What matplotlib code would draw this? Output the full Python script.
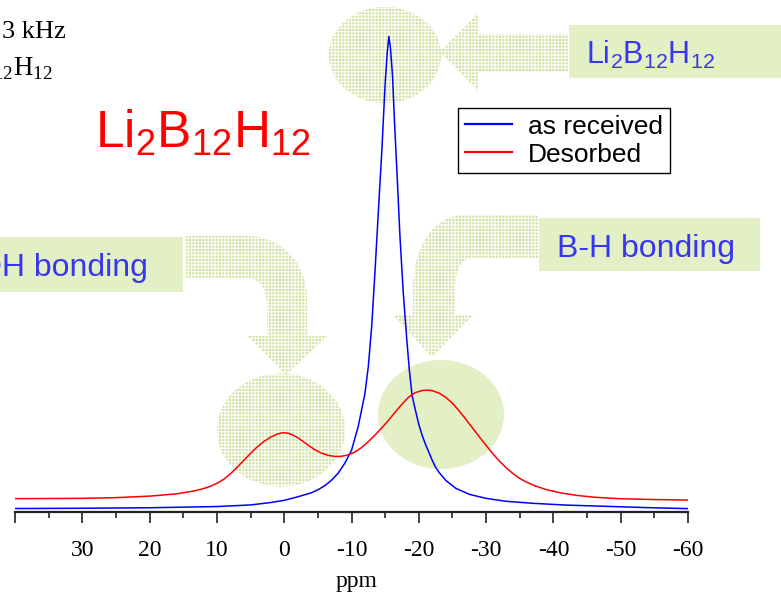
import matplotlib
matplotlib.use("Agg")
import matplotlib.pyplot as plt
from matplotlib.path import Path
from matplotlib.patches import PathPatch, Ellipse, Rectangle, Polygon
from matplotlib.transforms import Affine2D

# 11B MAS NMR spectra of Li2B12H12 (chemical shift in ppm, intensity in a.u.)
ppm_received = [40, 30, 20, 10, 5, 2, 0, -2, -4, -5, -6, -7, -8, -9, -10, -11, -12,
                -12.5, -13, -13.5, -14, -14.5, -15, -15.3, -15.55, -15.8, -16.1,
                -16.4, -16.8, -17.2, -17.7, -18.2, -18.6, -19, -19.5, -20, -20.5,
                -21, -21.5, -22, -22.5, -23, -24, -25.5, -27.5, -30, -33, -37,
                -42, -48, -54, -60]
int_received = [0.38, 0.44, 0.55, 0.80, 1.14, 1.65, 2.11, 2.85, 3.69, 4.33, 5.17,
                6.33, 7.81, 9.92, 12.66, 17.72, 24.68, 30.38, 38.82, 50.63, 63.29,
                75.74, 90.08, 96.41, 100.0, 97.47, 91.56, 81.65, 70.04, 57.81,
                45.78, 36.29, 29.54, 24.26, 21.10, 18.14, 15.82, 13.92, 12.24,
                10.55, 9.07, 8.02, 6.33, 4.64, 3.38, 2.53, 1.90, 1.48, 1.10, 0.84,
                0.57, 0.36]

ppm_desorbed = [40, 30, 25, 20, 16, 14, 13, 12, 11, 10, 9, 8, 7, 6, 5, 4, 3, 2, 1,
                0.2, -0.5, -1.2, -2, -2.8, -3.7, -4.6, -5.5, -6.5, -7.5, -8.5,
                -9.5, -10.5, -11.5, -12.5, -13.5, -14.5, -15.5, -16.5, -17.5,
                -18.5, -19.5, -20.5, -21.3, -22, -23, -24, -25, -26, -27, -28,
                -29, -30, -31, -32, -33, -34, -35, -36, -37.3, -39, -41.2, -43.5,
                -46.2, -50, -55, -60]
int_desorbed = [2.47, 2.53, 2.68, 3.00, 3.48, 3.95, 4.22, 4.60, 5.06, 5.70, 6.54,
                7.70, 9.07, 10.55, 12.03, 13.40, 14.55, 15.45, 16.10, 16.39, 16.30,
                15.95, 15.35, 14.55, 13.60, 12.75, 12.10, 11.62, 11.38, 11.40,
                11.70, 12.30, 13.25, 14.50, 15.90, 17.40, 19.00, 20.75, 22.40,
                23.90, 24.85, 25.30, 25.36, 25.25, 24.75, 23.85, 22.60, 21.00,
                19.20, 17.35, 15.50, 13.70, 11.95, 10.35, 8.95, 7.75, 6.75, 5.95,
                5.15, 4.35, 3.65, 3.15, 2.75, 2.45, 2.28, 2.17]

series_labels = ["as received", "Desorbed"]
major_ticks = [40, 30, 20, 10, 0, -10, -20, -30, -40, -50, -60]
major_labels = ["", "30", "20", "10", "0", "-10", "-20", "-30", "-40", "-50", "-60"]
minor_ticks = [35, 25, 15, 5, -5, -15, -25, -35, -45, -55]

W, H = 781, 598
fig = plt.figure(figsize=(W / 100, H / 100), dpi=100)
fig.patch.set_facecolor("white")

# pixel coordinates measured from the top-left corner of the figure
px = Affine2D().scale(1 / W, -1 / H).translate(0, 1) + fig.transFigure

ax = fig.add_axes([15 / W, (H - 512) / H, (688 - 15) / W, 512 / H])
ax.patch.set_visible(False)

SANS = "Liberation Sans"
SERIF = "Liberation Serif"
GREEN = "#e3efc4"
CHECK = "#cfe19c"
BLUE_TXT = "#3636f2"

plt.rcParams["hatch.linewidth"] = 0.8


def checker(patch):
    patch.set_facecolor(CHECK)
    patch.set_edgecolor("white")
    patch.set_hatch("+++++")
    patch.set_linewidth(0)
    return patch


def add(patch, z=-2):
    patch.set_transform(px)
    patch.set_zorder(z)
    patch.set_clip_on(False)
    fig.add_artist(patch)


# highlight ellipses
add(checker(Ellipse((385, 55), 112, 96)))
add(checker(Ellipse((281, 430), 128, 113)))
add(Ellipse((441, 414.5), 126, 109, facecolor=GREEN, edgecolor="none"))

# straight arrow pointing at the main peak
add(checker(Polygon([(440, 52), (478, 13), (478, 34), (568, 34), (568, 72),
                     (478, 72), (478, 91)], closed=True)))

# bent arrow for the O-H band
C, L, M, Z = Path.CURVE4, Path.LINETO, Path.MOVETO, Path.CLOSEPOLY
v1 = [(186, 236), (247, 236), (280, 236), (307, 262), (307, 300), (307, 336),
      (327, 336), (286, 375), (248, 336), (267, 336), (267, 305), (267, 290),
      (260, 278), (248, 278), (186, 278), (186, 236)]
c1 = [M, L, C, C, C, L, L, L, L, L, L, C, C, C, L, Z]
add(checker(PathPatch(Path(v1, c1))))

# bent arrow for the B-H band
v2 = [(538, 215), (465, 215), (432, 215), (413, 250), (413, 290), (413, 315),
      (393, 315), (432, 357), (473, 315), (455, 315), (455, 290), (455, 268),
      (462, 258), (472, 258), (538, 258), (538, 215)]
add(checker(PathPatch(Path(v2, c1))))

# label boxes
add(Rectangle((569, 25), 230, 53, facecolor=GREEN, edgecolor="none"))
add(Rectangle((-20, 237), 203, 55, facecolor=GREEN, edgecolor="none"))
add(Rectangle((539, 218), 221, 53, facecolor=GREEN, edgecolor="none"))

# spectra
l1, = ax.plot(ppm_received, int_received, color="#0000ff", lw=1.1, zorder=3)
l2, = ax.plot(ppm_desorbed, int_desorbed, color="#ff0000", lw=1.1, zorder=3)

ax.set_xlim(40, -60)
ax.set_ylim(-0.35, 107.7)

for s in ["left", "right", "top"]:
    ax.spines[s].set_visible(False)
ax.spines["bottom"].set_linewidth(1.6)
ax.spines["bottom"].set_color("#222222")
ax.set_yticks([])
ax.set_xticks(major_ticks)
ax.set_xticklabels(major_labels, fontfamily=SERIF, fontsize=17)
ax.set_xticks(minor_ticks, minor=True)
ax.tick_params(axis="x", which="major", direction="out", length=8, width=1.2,
               pad=12, color="#222222")
ax.tick_params(axis="x", which="minor", direction="out", length=4.5, width=1.2,
               color="#222222")

fig.text(357 / W, 1 - 582 / H, "ppm", fontfamily=SERIF, fontsize=17,
         ha="center", va="center")

# legend
leg = ax.legend([l1, l2], series_labels, loc="upper left",
                bbox_to_anchor=(458 / W, 1 - 108 / H), bbox_transform=fig.transFigure,
                prop={"family": SANS, "size": 19}, frameon=True, fancybox=False,
                edgecolor="black", framealpha=1, borderaxespad=0, borderpad=0.25,
                handlelength=1.8, handletextpad=0.6, labelspacing=0.15)
leg.get_frame().set_linewidth(1.0)
for ln in leg.get_lines():
    ln.set_linewidth(1.6)


# annotations
def ptext(x, y, s, **kw):
    return fig.text(x / W, 1 - y / H, s, **kw)


ptext(95, 148, r"Li$_\mathregular{2}$B$_\mathregular{12}$H$_\mathregular{12}$",
      fontfamily=SANS, fontsize=37, color="#ff0000", ha="left", va="baseline")
ptext(586, 64, r"Li$_\mathregular{2}$B$_\mathregular{12}$H$_\mathregular{12}$",
      fontfamily=SANS, fontsize=22, color=BLUE_TXT, ha="left", va="baseline")
ptext(148, 276, "OH bonding", fontfamily=SANS, fontsize=23, color=BLUE_TXT,
      ha="right", va="baseline")
ptext(557, 257, "B-H bonding", fontfamily=SANS, fontsize=23, color=BLUE_TXT,
      ha="left", va="baseline")
ptext(2, 38, "3 kHz", fontfamily=SERIF, fontsize=19, color="black",
      ha="left", va="baseline")
ptext(53, 75, r"B$_\mathregular{12}$H$_\mathregular{12}$", fontfamily=SERIF,
      fontsize=19.5, color="black", ha="right", va="baseline")

fig.savefig("out.png", dpi=100)
